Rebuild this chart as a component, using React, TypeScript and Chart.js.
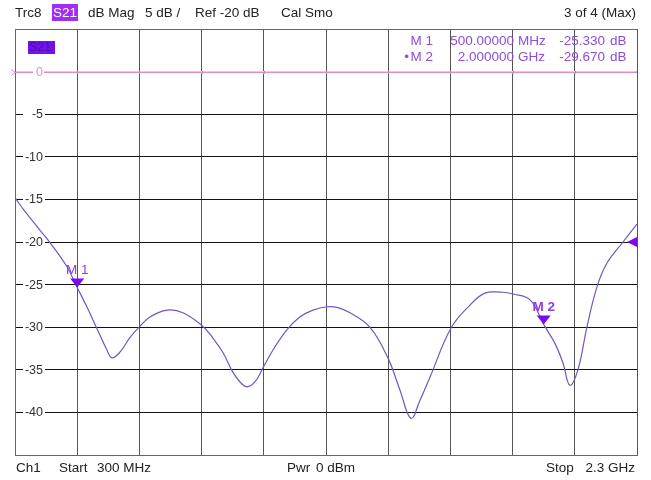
import React, { useEffect, useRef } from "react";
import { Chart, registerables } from "chart.js";

Chart.register(...registerables);

// ---- data ----
const freqMHz = [300, 332, 380, 413, 467, 500, 531, 564, 596, 612, 638, 670, 699, 734, 789, 840, 901, 937, 969, 1001, 1023, 1046, 1072, 1097, 1129, 1174, 1216, 1258, 1303, 1338, 1377, 1441, 1499, 1538, 1573, 1602, 1634, 1702, 1763, 1811, 1866, 1901, 1956, 2000, 2036, 2062, 2084, 2110, 2139, 2171, 2203, 2255, 2300];
const s21dB = [-14.8, -16.4, -18.6, -20.1, -22.9, -25.33, -27.6, -30.2, -32.7, -33.6, -32.9, -31.2, -30.0, -28.8, -28.0, -28.3, -29.8, -31.3, -33.0, -35.3, -36.4, -37.0, -36.4, -34.8, -32.7, -30.3, -28.8, -28.0, -27.6, -27.7, -28.3, -30.0, -33.6, -37.4, -40.7, -38.6, -35.9, -30.1, -27.4, -26.0, -25.9, -26.1, -26.8, -29.67, -31.9, -34.2, -36.8, -35.0, -30.0, -25.3, -22.5, -20.0, -17.9];

const yTickValues = [0, -5, -10, -15, -20, -25, -30, -35, -40];
const yTickLabels = ["0", "-5", "-10", "-15", "-20", "-25", "-30", "-35", "-40"];

const markerNames = ["M 1", "M 2"];
const markerFreqMHz = [500, 2000];
const markerDB = [-25.33, -29.67];
const markerFreqText = ["500.00000", "2.000000"];
const markerUnitText = ["MHz", "GHz"];
const markerValueText = ["-25.330", "-29.670"];

const refLineDB = 0;
const refLevelDB = -20;
const headerTexts = ["Trc8", "S21", "dB Mag", "5 dB /", "Ref -20 dB", "Cal Smo", "3 of 4 (Max)"];
const footerTexts = ["Ch1", "Start", "300 MHz", "Pwr", "0 dBm", "Stop", "2.3 GHz"];

const FONT = "'Liberation Sans', Arial, sans-serif";
const TRACE = "#7456bc";
const MARK = "#7a0af0";
const MARKTXT = "#8c3ee6";
const PINK = "#e08ad4";

const overlay = {
  id: "vnaOverlay",
  beforeDatasetsDraw(chart: any) {
    const ctx = chart.ctx;
    const y = chart.scales.y;
    const area = chart.chartArea;
    ctx.save();
    // pink reference line at 0 dB
    const p0 = Math.round(y.getPixelForValue(refLineDB)) + 0.5;
    ctx.fillStyle = "#ffffff";
    ctx.fillRect(area.left + 1, p0 - 1, area.right - area.left - 2, 2);
    ctx.strokeStyle = PINK;
    ctx.lineWidth = 1;
    ctx.beginPath();
    ctx.moveTo(area.left, p0);
    ctx.lineTo(area.right, p0);
    ctx.stroke();
    // restore vertical grid across the erased strip
    const x = chart.scales.x;
    ctx.strokeStyle = "#555555";
    x.ticks.forEach((t: any) => {
      const px = Math.round(x.getPixelForValue(t.value)) + 0.5;
      ctx.beginPath();
      ctx.moveTo(px, p0 - 1);
      ctx.lineTo(px, p0 - 0.5);
      ctx.moveTo(px, p0 + 0.5);
      ctx.lineTo(px, p0 + 1);
      ctx.stroke();
    });

    ctx.font = `12.5px ${FONT}`;
    ctx.textBaseline = "middle";
    ctx.textAlign = "right";
    yTickValues.forEach((v, i) => {
      const py = y.getPixelForValue(v);
      ctx.fillStyle = "#ffffff";
      if (v === 0) ctx.fillRect(33, py - 6, 11, 12);
      else ctx.fillRect(23, py - 6, 22, 12);
      ctx.fillStyle = v === 0 ? PINK : "#333333";
      ctx.fillText(yTickLabels[i], 43, py + 0.5);
    });
    // pink reference chevron on left edge at 0
    ctx.strokeStyle = PINK;
    ctx.lineWidth = 1;
    ctx.beginPath();
    ctx.moveTo(area.left - 4, p0 - 3);
    ctx.lineTo(area.left, p0);
    ctx.lineTo(area.left - 4, p0 + 3);
    ctx.stroke();
    // S21 box inside plot
    ctx.fillStyle = "#7410ee";
    ctx.fillRect(28, 41, 27, 13);
    ctx.fillStyle = "#4c10a8";
    ctx.textAlign = "left";
    ctx.font = `12.5px ${FONT}`;
    ctx.fillText("S21", 29, 48);
    ctx.restore();
  },
  afterDraw(chart: any) {
    const ctx = chart.ctx;
    const x = chart.scales.x;
    const y = chart.scales.y;
    const area = chart.chartArea;
    ctx.save();
    ctx.textBaseline = "middle";
    // header
    ctx.font = `13.5px ${FONT}`;
    ctx.fillStyle = "#222222";
    ctx.textAlign = "left";
    ctx.fillText(headerTexts[0], 15, 13);
    ctx.fillStyle = "#a02cf6";
    ctx.fillRect(52, 4, 26, 17);
    ctx.fillStyle = "#ffffff";
    ctx.fillText(headerTexts[1], 53, 13);
    ctx.fillStyle = "#222222";
    ctx.fillText(headerTexts[2], 88, 13);
    ctx.fillText(headerTexts[3], 145, 13);
    ctx.fillText(headerTexts[4], 195, 13);
    ctx.fillText(headerTexts[5], 281, 13);
    ctx.textAlign = "right";
    ctx.fillText(headerTexts[6], 636, 13);
    // footer
    ctx.textAlign = "left";
    ctx.fillText(footerTexts[0], 16, 468);
    ctx.fillText(footerTexts[1], 59, 468);
    ctx.fillText(footerTexts[2], 97, 468);
    ctx.fillText(footerTexts[3], 287, 468);
    ctx.fillText(footerTexts[4], 316, 468);
    ctx.fillText(footerTexts[5], 546, 468);
    ctx.textAlign = "right";
    ctx.fillText(footerTexts[6], 635, 468);

    // marker table
    ctx.font = `13.5px ${FONT}`;
    ctx.fillStyle = "#8e4ed8";
    const rows = [41, 57];
    markerNames.forEach((n, i) => {
      const ry = rows[i];
      ctx.textAlign = "right";
      ctx.fillText(n, 433, ry);
      if (i === 1) ctx.fillText("•", 409, ry);
      ctx.fillText(markerFreqText[i], 514, ry);
      ctx.textAlign = "left";
      ctx.fillText(markerUnitText[i], 518, ry);
      ctx.textAlign = "right";
      ctx.fillText(markerValueText[i], 605, ry);
      ctx.textAlign = "left";
      ctx.fillText("dB", 610, ry);
    });

    // markers on trace
    markerNames.forEach((n, i) => {
      const px = x.getPixelForValue(markerFreqMHz[i]);
      const py = y.getPixelForValue(markerDB[i]);
      ctx.fillStyle = MARK;
      ctx.beginPath();
      ctx.moveTo(px - 7, py - 9);
      ctx.lineTo(px + 7, py - 9);
      ctx.lineTo(px, py);
      ctx.closePath();
      ctx.fill();
      ctx.fillStyle = MARKTXT;
      ctx.textAlign = "center";
      ctx.font = (i === 1 ? "bold " : "") + `13.5px ${FONT}`;
      ctx.fillText(n, px, py - 17);
    });

    // reference level arrow on right edge
    const pr = y.getPixelForValue(refLevelDB);
    ctx.fillStyle = MARK;
    ctx.beginPath();
    ctx.moveTo(area.right - 10, pr);
    ctx.lineTo(area.right, pr - 5);
    ctx.lineTo(area.right, pr + 5);
    ctx.closePath();
    ctx.fill();
    ctx.restore();
  },
};

export default function App() {
  const ref = useRef<HTMLCanvasElement | null>(null);
  useEffect(() => {
    if (!ref.current) return;
    const chart = new Chart(ref.current, {
      type: "line",
      data: {
        datasets: [
          {
            data: freqMHz.map((f, i) => ({ x: f, y: s21dB[i] })),
            borderColor: TRACE,
            borderWidth: 1.2,
            pointRadius: 0,
            tension: 0.4,
            fill: false,
          },
        ],
      },
      options: {
        animation: false,
        responsive: false,
        events: [],
        layout: { padding: { left: 15, right: 14, top: 29, bottom: 25 } },
        plugins: { legend: { display: false }, tooltip: { enabled: false }, title: { display: false } },
        scales: {
          x: {
            type: "linear",
            min: 300,
            max: 2300,
            ticks: { display: false, stepSize: 200 },
            grid: { drawTicks: false, color: "#555555", lineWidth: 1 },
            border: { display: true, color: "#666666", width: 1 },
          },
          y: {
            type: "linear",
            min: -45,
            max: 5,
            ticks: { display: false, stepSize: 5 },
            grid: {
              drawTicks: false,
              lineWidth: 1,
              color: (c: any) => {
                const v = c.tick ? Math.round(c.tick.value) : NaN;
                if (v === 0) return PINK;
                if (v === 5 || v === -45) return "#666666";
                return "#111111";
              },
            },
            border: { display: true, color: "#666666", width: 1 },
          },
        },
      },
      plugins: [overlay],
    } as any);
    return () => chart.destroy();
  }, []);
  return (
    <div style={{ position: "absolute", left: 0, top: 0, width: 651, height: 480, background: "#ffffff" }}>
      <canvas ref={ref} width={651} height={480} style={{ display: "block" }} />
    </div>
  );
}
